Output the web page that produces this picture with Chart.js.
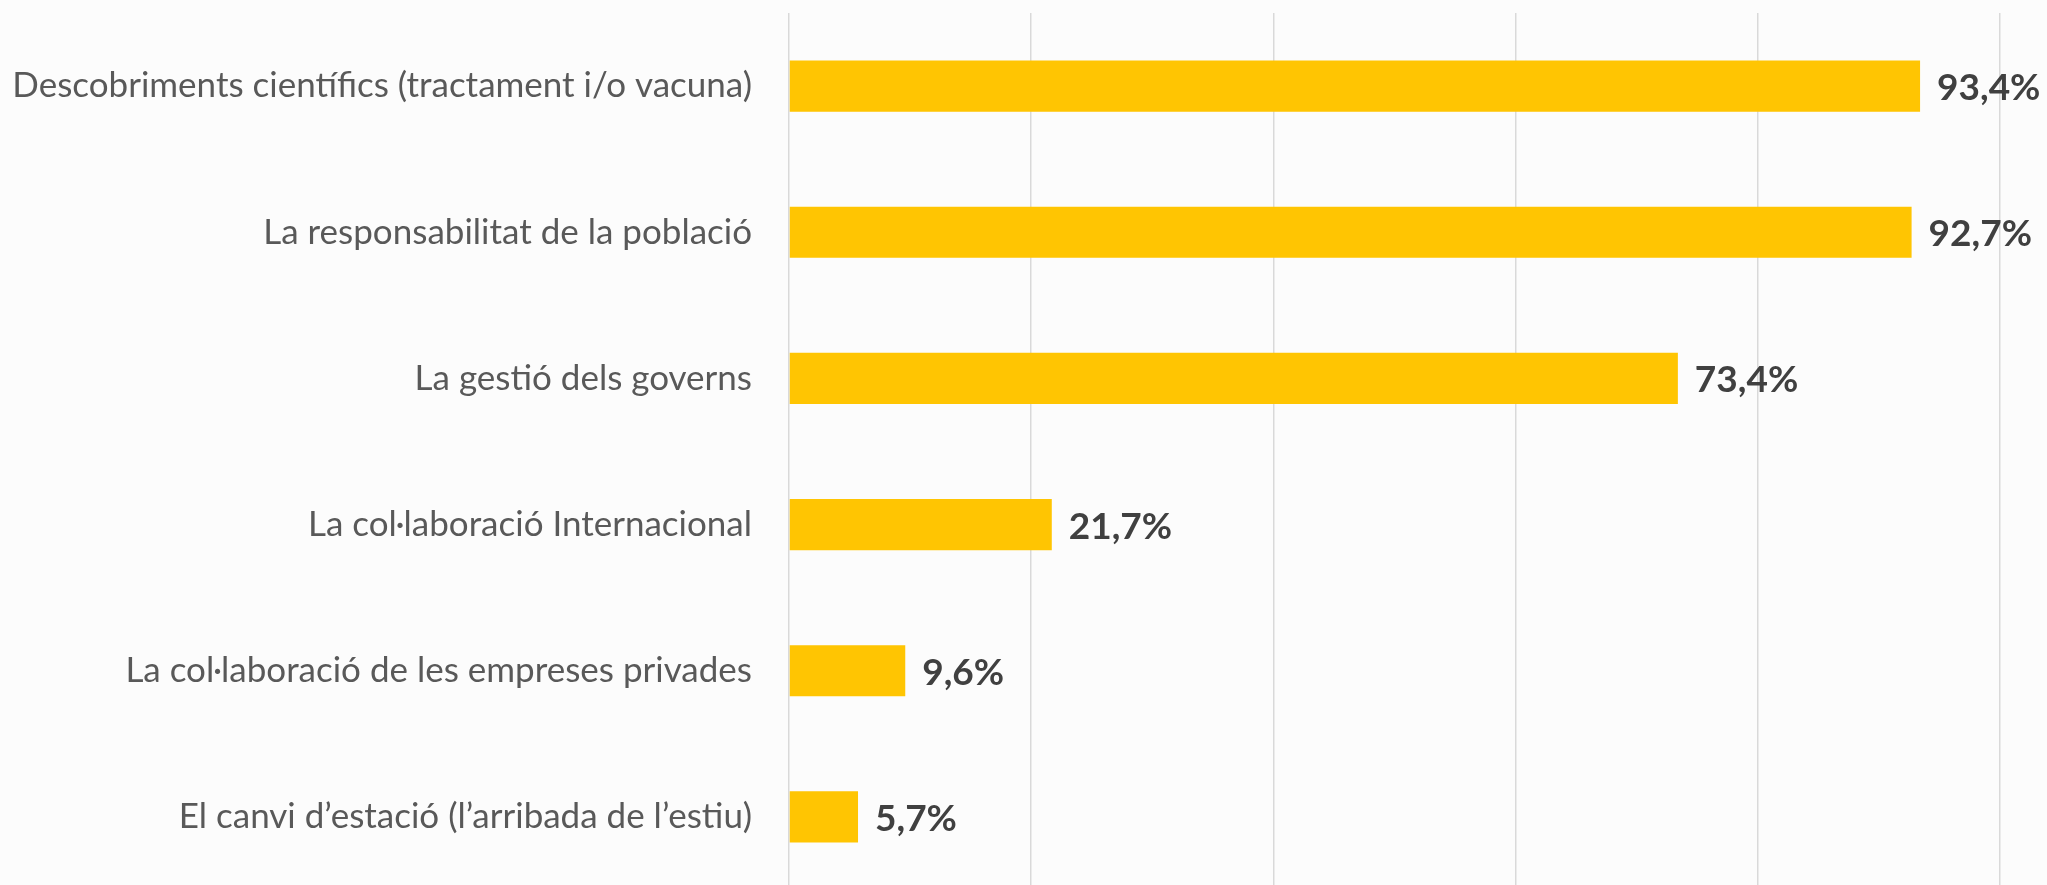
<!DOCTYPE html>
<html>
<head>
<meta charset="utf-8">
<script src="https://cdn.jsdelivr.net/npm/chart.js@4/dist/chart.umd.min.js"></script>
<style>
  html, body { margin: 0; padding: 0; background: #fcfcfc; overflow: hidden; }
  #wrap { position: relative; width: 2047px; height: 890px; }
</style>
</head>
<body>
<div id="wrap"><canvas id="myChart"></canvas></div>
<script>
const categories = [
  "Descobriments científics (tractament i/o vacuna)",
  "La responsabilitat de la població",
  "La gestió dels governs",
  "La col·laboració Internacional",
  "La col·laboració de les empreses privades",
  "El canvi d’estació (l’arribada de l’estiu)",
];
const values = [93.4, 92.7, 73.4, 21.7, 9.6, 5.7];
const axisMax = 100;
const axisStep = 20;

// draws "93,4%" style labels to the right of each bar
const valueLabels = {
  id: "valueLabels",
  afterDatasetsDraw(chart) {
    const ctx = chart.ctx;
    const meta = chart.getDatasetMeta(0);
    ctx.save();
    ctx.font = "bold 37px Lato";
    ctx.fillStyle = "#404040";
    ctx.textAlign = "left";
    ctx.textBaseline = "middle";
    meta.data.forEach((bar, i) => {
      const txt = values[i].toFixed(1).replace(".", ",") + "%";
      ctx.fillText(txt, bar.x + 17, bar.y + 2);
    });
    ctx.restore();
  },
};

document.addEventListener("DOMContentLoaded", () => {
  const ctx = document.getElementById("myChart");
  new Chart(ctx, {
    type: "bar",
    data: {
      labels: categories,
      datasets: [
        {
          data: values,
          backgroundColor: "#FFC502",
          categoryPercentage: 1,
          barPercentage: 0.35,
        },
      ],
    },
    options: {
      indexAxis: "y",
      responsive: true,
      maintainAspectRatio: false,
      animation: false,
      layout: { padding: { top: 13, right: 47, bottom: 0, left: 0 } },
      plugins: { legend: { display: false }, tooltip: { enabled: false } },
      scales: {
        x: {
          min: 0,
          max: axisMax,
          ticks: { display: false, stepSize: axisStep },
          grid: { color: "#d9d9d9", lineWidth: 1.5, drawTicks: false },
          border: { display: false },
        },
        y: {
          afterFit: (scale) => {
            scale.width = 789;
            // tick padding should not push the plot area down
            scale.paddingTop = 0;
            scale.paddingBottom = 0;
          },
          ticks: {
            color: "#595959",
            font: { family: "Lato", size: 35 },
            padding: 37,
          },
          grid: { display: false, drawTicks: false },
          border: { display: false },
        },
      },
    },
    plugins: [valueLabels],
  });
});
</script>
</body>
</html>
